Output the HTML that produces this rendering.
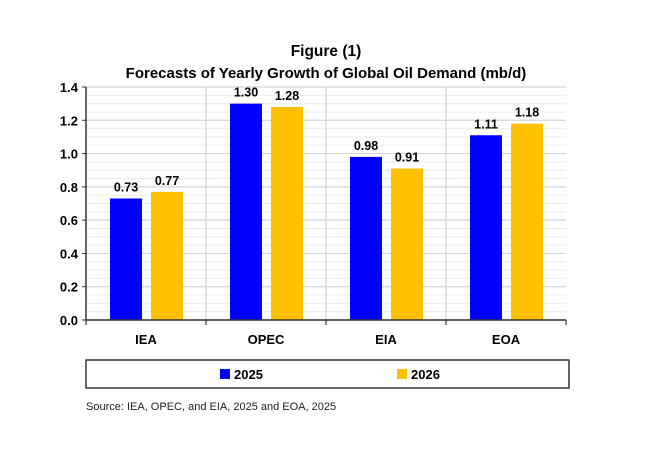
<!DOCTYPE html>
<html><head><meta charset="utf-8"><style>
body{margin:0;background:#fff;width:659px;height:459px;overflow:hidden;font-family:"Liberation Sans",sans-serif}
</style></head><body>
<svg width="659" height="459" id="svg">
<text x="326" y="56" text-anchor="middle" font-size="15.5" font-weight="bold">Figure (1)</text>
<text x="326" y="78" text-anchor="middle" font-size="15" font-weight="bold">Forecasts of Yearly Growth of Global Oil Demand (mb/d)</text>
<g id="plot"></g>
<rect x="86" y="360" width="483" height="28" fill="none" stroke="#333" stroke-width="1.5"/>
<rect x="220" y="369" width="10" height="10" fill="#0000ff"/>
<text x="234" y="379" font-size="13" font-weight="bold">2025</text>
<rect x="397" y="369" width="10" height="10" fill="#ffc000"/>
<text x="411" y="379" font-size="13" font-weight="bold">2026</text>
<text x="86" y="410" font-size="11" fill="#222">Source: IEA, OPEC, and EIA, 2025 and EOA, 2025</text>
</svg>
<script>
const categories=["IEA","OPEC","EIA","EOA"];
const values2025=[0.73,1.30,0.98,1.11];
const values2026=[0.77,1.28,0.91,1.18];
const yTicks=["0.0","0.2","0.4","0.6","0.8","1.0","1.2","1.4"];
const NS="http://www.w3.org/2000/svg";
const g=document.getElementById('plot');
const L=86,R=566,T=87,B=320,yMax=1.4;
const y=v=>B-(v/yMax)*(B-T);
const cw=(R-L)/categories.length;
const x=i=>L+i*cw;
function mk(t,a){const e=document.createElementNS(NS,t);for(const k in a)e.setAttribute(k,a[k]);g.appendChild(e);return e;}
for(let v=0;v<=yMax+1e-9;v+=0.05){if(Math.abs(v/0.2-Math.round(v/0.2))<1e-6)continue;
 const e=mk('line',{x1:L,x2:R,y1:y(v),y2:y(v),stroke:'#ececec','stroke-width':1});
 
 }
yTicks.forEach(t=>{const v=parseFloat(t);
 const e=mk('line',{x1:L,x2:R,y1:y(v),y2:y(v),stroke:'#d4d4d4','stroke-width':1.2});
 
 
 const tk=mk('line',{x1:L-4,x2:L,y1:y(v),y2:y(v),stroke:'#333'});
 
 
 const tx=mk('text',{x:L-8,y:y(v)+5,'text-anchor':'end','font-size':13,'font-weight':'bold'});
 tx.textContent=t;
 
 });
for(let i=1;i<categories.length;i++){const e=mk('line',{x1:x(i),x2:x(i),y1:T,y2:B,stroke:'#d0d0d0','stroke-width':1.2});
 
 }
const bw=32;
categories.forEach((c,i)=>{
 [[values2025,'#0000ff',24,'2025'],[values2026,'#ffc000',65,'2026']].forEach(([arr,col,off,s])=>{
  const v=arr[i];
  const r=mk('rect',{x:x(i)+off,y:y(v),width:bw,height:B-y(v),fill:col});
  
  
  const t=mk('text',{x:x(i)+off+bw/2,y:y(v)-7,'text-anchor':'middle','font-size':12.5,'font-weight':'bold'});
  t.textContent=v.toFixed(2);
  
  });
 const ct=mk('text',{x:x(i)+cw/2,y:B+24,'text-anchor':'middle','font-size':13,'font-weight':'bold'});
 ct.textContent=c;
 
 
 const tk=mk('line',{x1:x(i+1),x2:x(i+1),y1:B,y2:B+5,stroke:'#333','stroke-width':1.2});
 
 });
const tk0=mk('line',{x1:L,x2:L,y1:B,y2:B+5,stroke:'#333','stroke-width':1.2});


const ya=mk('line',{x1:L,x2:L,y1:T,y2:B,stroke:'#333','stroke-width':1.5});


const xa=mk('line',{x1:L,x2:R,y1:B,y2:B,stroke:'#333','stroke-width':1.5});


</script>
</body></html>
